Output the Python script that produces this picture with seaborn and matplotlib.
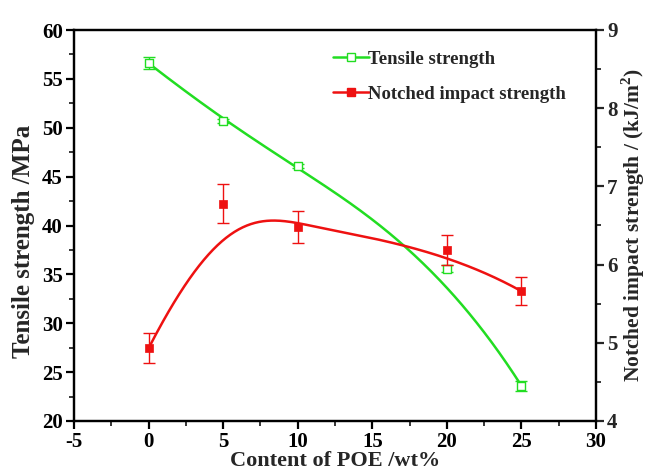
import numpy as np
import pandas as pd
import seaborn as sns
import matplotlib
matplotlib.use("Agg")
import matplotlib.pyplot as plt
from matplotlib.lines import Line2D
from matplotlib.ticker import MultipleLocator

# ---- data ----
poe = [0, 5, 10, 20, 25]
tensile = [56.6, 50.7, 46.1, 35.6, 23.6]
tensile_err = [0.6, 0.2, 0.2, 0.4, 0.5]
impact = [4.93, 6.78, 6.48, 6.19, 5.66]
impact_err = [0.19, 0.25, 0.20, 0.19, 0.18]
x_ticks = [-5, 0, 5, 10, 15, 20, 25, 30]
left_ticks = [20, 25, 30, 35, 40, 45, 50, 55, 60]
right_ticks = [4, 5, 6, 7, 8, 9]

GREEN = "#22dd22"
RED = "#ee1111"

sns.set_theme(style="white")
plt.rcParams["font.family"] = ["Liberation Serif", "DejaVu Serif"]
plt.rcParams["font.weight"] = "bold"
plt.rcParams["mathtext.fontset"] = "custom"
plt.rcParams["mathtext.rm"] = "Liberation Serif:bold"
plt.rcParams["mathtext.bf"] = "Liberation Serif:bold"


def bspline(xs, ys, num=300, k=3):
    """Clamped B-spline using data points as control points (Origin 'B-spline' connect)."""
    P = np.column_stack([xs, ys]).astype(float)
    n = len(P)
    inner = np.linspace(0, 1, n - k + 1)[1:-1]
    knots = np.concatenate([np.zeros(k + 1), inner, np.ones(k + 1)])
    t = np.linspace(0, 1, num)
    t[-1] = 1 - 1e-12

    def basis(i, p, t):
        if p == 0:
            return np.where((knots[i] <= t) & (t < knots[i + 1]), 1.0, 0.0)
        a = 0.0
        d1 = knots[i + p] - knots[i]
        d2 = knots[i + p + 1] - knots[i + 1]
        if d1 > 0:
            a = a + (t - knots[i]) / d1 * basis(i, p - 1, t)
        if d2 > 0:
            a = a + (knots[i + p + 1] - t) / d2 * basis(i + 1, p - 1, t)
        return a

    B = np.column_stack([basis(i, k, t) for i in range(n)])
    C = B @ P
    return C[:, 0], C[:, 1]


fig = plt.figure(figsize=(6.46, 4.70), dpi=100)
ax = fig.add_axes([74 / 646, 49 / 470, (596 - 74) / 646, (421 - 30) / 470])
ax2 = ax.twinx()

# tensile strength (left axis)
gx, gy = bspline(poe, tensile)
curve_t = pd.DataFrame({"x": gx, "y": gy})
sns.lineplot(data=curve_t, x="x", y="y", sort=False, color=GREEN, lw=1.8, ax=ax)
ax.errorbar(poe, tensile, yerr=tensile_err, fmt="none", ecolor=GREEN, elinewidth=1.0,
            capsize=4, capthick=1.0, zorder=3)
sns.scatterplot(x=poe, y=tensile, marker="s", s=30, facecolor="white", edgecolor=GREEN,
                linewidth=1.0, ax=ax, zorder=4)

# notched impact strength (right axis)
rx, ry = bspline(poe, impact)
curve_i = pd.DataFrame({"x": rx, "y": ry})
sns.lineplot(data=curve_i, x="x", y="y", sort=False, color=RED, lw=1.8, ax=ax2)
ax2.errorbar(poe, impact, yerr=impact_err, fmt="none", ecolor=RED, elinewidth=1.0,
             capsize=4, capthick=1.0, zorder=3)
sns.scatterplot(x=poe, y=impact, marker="s", s=40, color=RED, edgecolor=RED,
                linewidth=0.5, ax=ax2, zorder=4)

ax.set_xlim(-5, 30)
ax.set_ylim(20, 60)
ax2.set_ylim(4, 9)
ax.set_xticks(x_ticks)
ax.set_yticks(left_ticks)
ax2.set_yticks(right_ticks)
ax.set_xticklabels([str(v) for v in x_ticks])
ax.set_yticklabels([str(v) for v in left_ticks])
ax2.set_yticklabels([str(v) for v in right_ticks])
ax.xaxis.set_minor_locator(MultipleLocator(2.5))
ax.yaxis.set_minor_locator(MultipleLocator(2.5))
ax2.yaxis.set_minor_locator(MultipleLocator(0.5))

for a in (ax, ax2):
    for s in a.spines.values():
        s.set_linewidth(1.6)
        s.set_color("black")
ax.tick_params(axis="both", which="major", direction="out", length=6, width=1.6,
               labelsize=15, pad=2, colors="black", left=True, bottom=True)
ax.tick_params(axis="both", which="minor", direction="out", length=3.5, width=1.3,
               left=True, bottom=True)
ax2.tick_params(axis="y", which="major", direction="out", length=6, width=1.6,
                labelsize=15, pad=2, right=True)
ax2.tick_params(axis="y", which="minor", direction="out", length=3.5, width=1.3, right=True)

ax.set_xlabel("Content of POE /wt%", fontsize=16, fontweight="bold", labelpad=-1)
ax.set_ylabel("Tensile strength /MPa", fontsize=18, fontweight="bold")
ax.yaxis.set_label_coords(-0.074, 0.46)
ax2.set_ylabel("Notched impact strength / (kJ/m$^{2}$)", fontsize=15.5, fontweight="bold",
               labelpad=1)
ax.grid(False)
ax2.grid(False)

handles = [
    Line2D([], [], color=GREEN, lw=1.8, marker="s", markersize=5.5,
           markerfacecolor="white", markeredgecolor=GREEN),
    Line2D([], [], color=RED, lw=1.8, marker="s", markersize=6,
           markerfacecolor=RED, markeredgecolor=RED),
]
ax2.legend(handles, ["Tensile strength", "Notched impact strength"],
           loc="upper left", bbox_to_anchor=(316 / 646, 1 - 34 / 470),
           bbox_transform=fig.transFigure, frameon=False,
           handlelength=1.9, handletextpad=0.0, labelspacing=0.95,
           prop={"weight": "bold", "size": 13.5})

fig.savefig("out.png", dpi=100)
